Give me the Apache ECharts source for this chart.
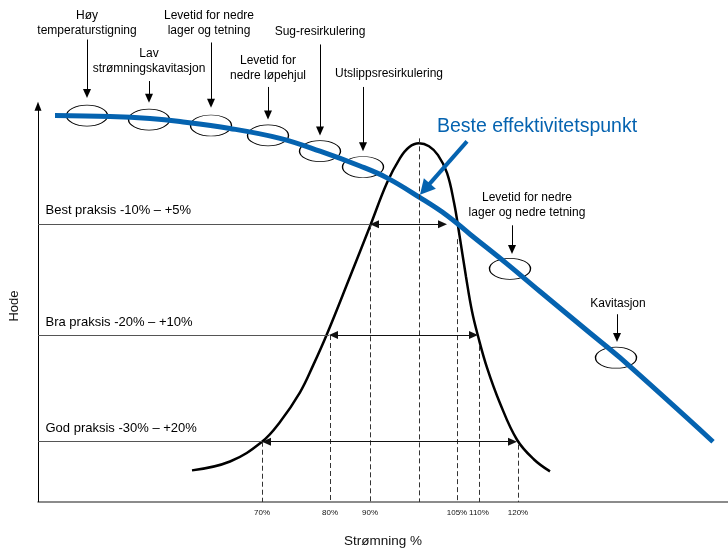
<!DOCTYPE html>
<html>
<head>
<meta charset="utf-8">
<script src="https://cdn.jsdelivr.net/npm/echarts@6/dist/echarts.min.js"></script>
<style>
  html, body { margin: 0; padding: 0; background: #fff; }
  #chart { width: 728px; height: 553px; }
</style>
</head>
<body>
<div id="chart"></div>
<script>
// schematic diagram units (same scale on both axes)
const tickX = [44.8, 58.4, 66.4, 76.2, 83.8, 88.2, 96];
const tickLabels = ['70%', '80%', '90%', '', '105%', '110%', '120%'];
const dashTop = [12.2, 33.8, 56.2, 73.6, 53.2, 31.6, 11.6];

// pump curve (head vs flow)
const pumpCurve = [
  [3.4, 78.2], [14.4, 78], [22.4, 77.6], [28.4, 77], [38.4, 75.6], [48.4, 73.6],
  [56.4, 71], [64.4, 68], [69.8, 65.6], [76.4, 61.6], [81.8, 58], [86.4, 54.2],
  [93.8, 48.2], [100.4, 42.6], [110.4, 34.2], [116.4, 29.2], [135, 12.2]
];

// bell-shaped reliability curve
const bellCurve = [
  [30.8, 6.4], [38.4, 8.2], [44.8, 12.2], [48.4, 16.2], [52.4, 22.2], [55, 27.6],
  [57.8, 34], [62.4, 45.6], [66.4, 55.8], [69.8, 64.6], [72.4, 69.6], [74.2, 71.8],
  [76.2, 72.6], [78.2, 72], [80, 70.2], [81.8, 66.6], [83.2, 60.6], [84.2, 54.6],
  [85.6, 45.6], [86.8, 38.6], [88, 33.6], [89.8, 27.2], [92.4, 20], [95.8, 12.6],
  [99.2, 8.6], [102.4, 6.2]
];

const levelNames = ['Best praksis -10% – +5%', 'Bra praksis -20% – +10%', 'God praksis -30% – +20%'];
const levelY = [56.2, 33.8, 12.2];
const levelLabelY = [59, 36.4, 14.8];
const levelLeft = [66.4, 58.2, 44.8];
const levelRight = [81.8, 88, 95.8];

const ellipses = [
  [9.8, 78.2], [22.2, 77.4], [34.6, 76.2], [46, 74.2], [56.4, 71], [65, 67.8],
  [94.4, 47.2], [115.6, 29.2]
];

const noteText = [
  'Høy\ntemperaturstigning',
  'Lav\nstrømningskavitasjon',
  'Levetid for nedre\nlager og tetning',
  'Levetid for\nnedre løpehjul',
  'Sug-resirkulering',
  'Utslippsresirkulering',
  'Levetid for nedre\nlager og nedre tetning',
  'Kavitasjon'
];
const notePos = [
  [9.8, 97], [22.2, 89.2], [34.2, 97], [46, 87.8], [56.4, 95.2], [70.2, 86.6],
  [97.8, 60.1], [116, 40.2]
];
const noteArrowX = [9.8, 22.2, 34.6, 46, 56.4, 65, 94.8, 115.8];
const noteArrowTop = [93.6, 85.2, 93, 84, 92.6, 84, 56, 38];
const noteArrowTip = [81.8, 80.8, 79.8, 77.4, 74.2, 71, 50.2, 32.4];

const bepLabel = 'Beste effektivitetspunkt';
const bepLabelPos = [99.8, 76];
const bepArrow = [[85.8, 73], [76.4, 62.2]];

const BLUE = '#0563b0';
const FONT = '"Liberation Sans", Arial, sans-serif';

// triangle symbols are centred on the end point, so pull the end back by half the head
function arrowEnd(from, tip, head) {
  const dx = tip[0] - from[0], dy = tip[1] - from[1];
  const len = Math.sqrt(dx * dx + dy * dy);
  return [tip[0] - dx / len * head / 2, tip[1] - dy / len * head / 2];
}

const chart = echarts.init(document.getElementById('chart'));

const dashLines = tickX.map((x, i) => [{ coord: [x, dashTop[i]] }, { coord: [x, 0] }]);

const levelPlain = levelY.map((y, i) => [{ coord: [0, y] }, { coord: [levelLeft[i], y] }]);
const levelArrows = levelY.map((y, i) => [
  { coord: arrowEnd([levelRight[i], y], [levelLeft[i], y], 1.8) },
  { coord: arrowEnd([levelLeft[i], y], [levelRight[i], y], 1.8) }
]);

const noteArrows = noteArrowX.map((x, i) => [
  { coord: [x, noteArrowTop[i]] },
  { coord: arrowEnd([x, noteArrowTop[i]], [x, noteArrowTip[i]], 1.8) }
]);

const markBase = { silent: true, animation: false, label: { show: false } };

const option = {
  animation: false,
  textStyle: { fontFamily: FONT },
  grid: { left: 38, right: 0, top: 0, bottom: 45 },
  xAxis: {
    type: 'value', min: 0, max: 138,
    axisLine: { lineStyle: { color: '#666', width: 1.5 } },
    axisTick: { show: false },
    splitLine: { show: false },
    axisLabel: {
      customValues: tickX.filter((x, i) => tickLabels[i] !== ''),
      formatter: v => tickLabels[tickX.indexOf(v)],
      fontSize: 8, color: '#111', margin: 7
    },
    name: 'Strømning %', nameLocation: 'middle', nameGap: 32,
    nameTextStyle: { fontSize: 13.5, color: '#111' }
  },
  yAxis: { type: 'value', min: 0, max: 101.6, show: false },
  graphic: [{
    type: 'text', x: 14, y: 306, rotation: Math.PI / 2,
    style: { text: 'Hode', fontSize: 13, fill: '#111', align: 'center', verticalAlign: 'middle', fontFamily: FONT }
  }],
  series: [
    {
      name: 'frame', type: 'line', data: [],
      markLine: Object.assign({}, markBase, {
        symbol: ['none', 'triangle'], symbolSize: [7, 9],
        lineStyle: { color: '#000', width: 1, type: 'solid' },
        data: [[{ coord: [0, 0] }, { coord: arrowEnd([0, 0], [0, 81], 1.8) }]]
      })
    },
    {
      name: 'dashes', type: 'line', data: [],
      markLine: Object.assign({}, markBase, {
        symbol: 'none',
        lineStyle: { color: '#333', width: 1, type: [5, 3] },
        data: dashLines
      })
    },
    {
      name: 'levels', type: 'line', data: [],
      markLine: Object.assign({}, markBase, {
        symbol: 'none',
        lineStyle: { color: '#555', width: 1.2, type: 'solid' },
        data: levelPlain
      })
    },
    {
      name: 'levelArrows', type: 'line', data: [],
      markLine: Object.assign({}, markBase, {
        symbol: ['triangle', 'triangle'], symbolSize: [8, 9],
        lineStyle: { color: '#111', width: 1, type: 'solid' },
        data: levelArrows
      })
    },
    {
      name: 'noteArrows', type: 'line', data: [],
      markLine: Object.assign({}, markBase, {
        symbol: ['none', 'triangle'], symbolSize: [8, 9],
        lineStyle: { color: '#000', width: 1, type: 'solid' },
        data: noteArrows
      })
    },
    {
      name: 'ellipses', type: 'scatter', silent: true,
      symbol: 'circle', symbolSize: [41, 21],
      itemStyle: { color: 'rgba(0,0,0,0)', borderColor: '#000', borderWidth: 1, opacity: 1 },
      data: ellipses
    },
    {
      name: 'bell', type: 'line', silent: true, smooth: 0.4, symbol: 'none',
      lineStyle: { color: '#000', width: 2.5 },
      data: bellCurve
    },
    {
      name: 'pump', type: 'line', silent: true, smooth: 0.4, symbol: 'none',
      lineStyle: { color: BLUE, width: 5 },
      data: pumpCurve
    },
    {
      name: 'bep', type: 'line', data: [],
      markLine: Object.assign({}, markBase, {
        symbol: ['none', 'triangle'], symbolSize: [16, 15],
        lineStyle: { color: BLUE, width: 4, type: 'solid' },
        data: [[{ coord: bepArrow[0] }, { coord: arrowEnd(bepArrow[0], bepArrow[1], 3) }]]
      })
    },
    {
      name: 'notes', type: 'scatter', silent: true, symbolSize: 1,
      itemStyle: { color: 'rgba(0,0,0,0)', opacity: 1 },
      label: {
        show: true, position: 'inside', formatter: '{b}',
        color: '#000', fontSize: 12, lineHeight: 15, align: 'center'
      },
      data: noteText.map((t, i) => ({ name: t, value: notePos[i] }))
        .concat([{
          name: bepLabel, value: bepLabelPos,
          label: { color: BLUE, fontSize: 19.5, lineHeight: 22 }
        }])
    },
    {
      name: 'levelLabels', type: 'scatter', silent: true, symbolSize: 1,
      itemStyle: { color: 'rgba(0,0,0,0)', opacity: 1 },
      label: {
        show: true, position: 'right', distance: 0, formatter: '{b}',
        color: '#000', fontSize: 13
      },
      data: levelNames.map((t, i) => ({ name: t, value: [1.4, levelLabelY[i]] }))
    }
  ]
};

chart.setOption(option);
window.addEventListener('resize', () => chart.resize());
</script>
</body>
</html>
